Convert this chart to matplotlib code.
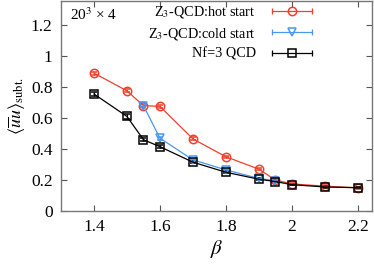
import matplotlib
matplotlib.use('Agg')
import matplotlib.pyplot as plt
from matplotlib.lines import Line2D
from matplotlib.legend_handler import HandlerLine2D, HandlerTuple
import numpy as np

plt.rcParams['font.family'] = ['Liberation Serif', 'DejaVu Serif']
plt.rcParams['mathtext.fontset'] = 'stix'

# data
beta_hot = [1.4, 1.5, 1.55, 1.6, 1.7, 1.8, 1.9, 1.95, 2.0, 2.1, 2.2]
uu_hot = [0.89, 0.775, 0.68, 0.675, 0.465, 0.35, 0.27, 0.20, 0.175, 0.16, 0.15]
err_hot = [0.01, 0.01, 0.01, 0.01, 0.01, 0.008, 0.008, 0.006, 0.005, 0.005, 0.005]

beta_cold = [1.55, 1.6, 1.7, 1.8, 1.9, 1.95]
uu_cold = [0.68, 0.47, 0.33, 0.265, 0.21, 0.195]
err_cold = [0.01, 0.01, 0.008, 0.006, 0.005, 0.005]

beta_nf3 = [1.4, 1.5, 1.55, 1.6, 1.7, 1.8, 1.9, 1.95, 2.0, 2.1, 2.2]
uu_nf3 = [0.755, 0.61, 0.46, 0.415, 0.315, 0.25, 0.205, 0.19, 0.17, 0.155, 0.15]
err_nf3 = [0.015, 0.015, 0.01, 0.008, 0.006, 0.005, 0.005, 0.005, 0.004, 0.004, 0.004]

labels = ['Z$_3$-QCD:hot start', 'Z$_3$-QCD:cold start', 'Nf=3 QCD']

xticks = [1.4, 1.6, 1.8, 2.0, 2.2]
xtick_labels = ['1.4', '1.6', '1.8', '2', '2.2']
yticks = [0, 0.2, 0.4, 0.6, 0.8, 1.0, 1.2]
ytick_labels = ['0', '0.2', '0.4', '0.6', '0.8', '1', '1.2']

fig = plt.figure(figsize=(3.74, 2.68), dpi=100)
ax = fig.add_axes([61 / 374, 57 / 268, 311 / 374, 210 / 268])

red = '#f0402a'
blue = '#4a96f0'

common = dict(markersize=6, markerfacecolor='none', markeredgewidth=1.1,
              linewidth=0.9, elinewidth=0.9, capsize=2)
ax.errorbar(beta_hot, uu_hot, yerr=err_hot, color=red, marker='o', **common)
ax.errorbar(beta_cold, uu_cold, yerr=err_cold, color=blue, marker='v', **common)
ax.errorbar(beta_nf3, uu_nf3, yerr=err_nf3, color='black', marker='s', **common)

# gnuplot-like key: horizontal line with end caps and the marker in the middle
handles = []
hmap = {}
for c, m in [(red, 'o'), (blue, 'v'), ('black', 's')]:
    caps = Line2D([], [], color=c, marker='|', markersize=5, linewidth=0.9,
                  markeredgewidth=0.9)
    mk = Line2D([], [], color=c, marker=m, markersize=6, markerfacecolor='none',
                markeredgewidth=1.1, linewidth=0)
    handles.append((caps, mk))
    hmap[caps] = HandlerLine2D(numpoints=2)
hmap[tuple] = HandlerTuple(ndivide=1, pad=0)

ax.set_xlim(1.3, 2.243)
ax.set_ylim(0, 1.355)
ax.set_xticks(xticks)
ax.set_xticklabels(xtick_labels)
ax.set_yticks(yticks)
ax.set_yticklabels(ytick_labels)
ax.tick_params(direction='in', top=True, right=True, labelsize=12.5,
               length=4, width=0.8, color='#555555', pad=6)
for s in ax.spines.values():
    s.set_color('#777777')
    s.set_linewidth(1.0)

ax.set_xlabel(r'$\beta$', fontsize=15, labelpad=2)
ax.set_ylabel(r'$\langle \overline{u}u \rangle_{\rm subt.}$', fontsize=13, labelpad=2)

ax.text(0.03, 0.975, '20$^3$ × 4', transform=ax.transAxes,
        ha='left', va='top', fontsize=11)

leg = ax.legend(handles, labels, handler_map=hmap, loc='upper right',
                bbox_to_anchor=(0.82, 0.985), frameon=False, markerfirst=False,
                fontsize=10.3, handlelength=3.4, handletextpad=0.8,
                labelspacing=0.4, borderaxespad=0, borderpad=0)

fig.savefig('out.png', dpi=100)
